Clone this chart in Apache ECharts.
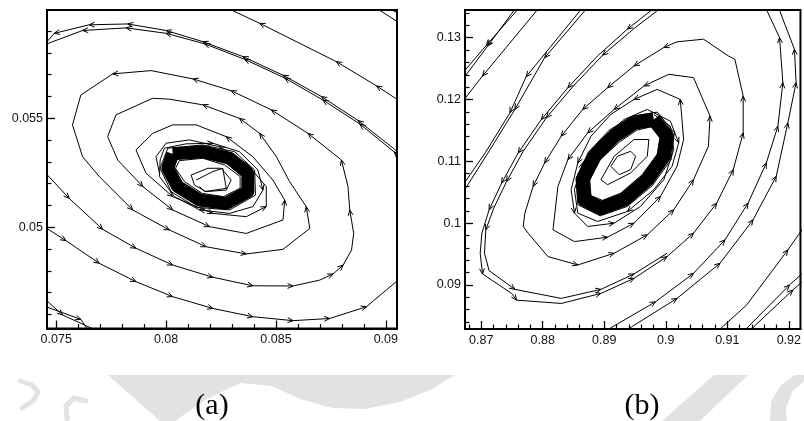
<!DOCTYPE html>
<html>
<head>
<meta charset="utf-8">
<script src="https://cdn.jsdelivr.net/npm/echarts@6/dist/echarts.min.js"></script>
<style>
  html, body { margin: 0; padding: 0; background: #ffffff; }
  #chart { width: 804px; height: 421px; }
</style>
</head>
<body>
<div id="chart"></div>
<script>
// ---------- panel (a): axis ticks ----------
const xMajorA = [0.075, 0.08, 0.085, 0.09];
const xLabelsA = ['0.075', '0.08', '0.085', '0.09'];
const xMinorA = [0.076, 0.077, 0.078, 0.079, 0.081, 0.082, 0.083, 0.084, 0.086, 0.087, 0.088, 0.089];
const yMajorA = [0.05, 0.055];
const yLabelsA = ['0.05', '0.055'];
const yMinorA = [0.046, 0.047, 0.048, 0.049, 0.051, 0.052, 0.053, 0.054, 0.056, 0.057, 0.058, 0.059];

// ---------- panel (b): axis ticks ----------
const xMajorB = [0.87, 0.88, 0.89, 0.9, 0.91, 0.92];
const xLabelsB = ['0.87', '0.88', '0.89', '0.9', '0.91', '0.92'];
const xMinorB = [0.868, 0.872, 0.874, 0.876, 0.878, 0.882, 0.884, 0.886, 0.888, 0.892, 0.894, 0.896, 0.898,
                 0.902, 0.904, 0.906, 0.908, 0.912, 0.914, 0.916, 0.918];
const yMajorB = [0.09, 0.1, 0.11, 0.12, 0.13];
const yLabelsB = ['0.09', '0.1', '0.11', '0.12', '0.13'];
const yMinorB = [0.084, 0.086, 0.088, 0.092, 0.094, 0.096, 0.098, 0.102, 0.104, 0.106, 0.108,
                 0.112, 0.114, 0.116, 0.118, 0.122, 0.124, 0.126, 0.128, 0.132, 0.134];

// ---------- panel (a): trajectories (x, y) ----------
const topRightA = [[0.09056, 0.05584], [0.08958, 0.05649], [0.08775, 0.0576], [0.08426, 0.05936], [0.08289, 0.06001]];
const topRightArrowsA = [1, 2, 3];
const cornerA1 = [[0.09064, 0.05936], [0.08958, 0.06005]];
const cornerA2 = [[0.09064, 0.05979], [0.09011, 0.06005]];

const outerArmA1 = [[0.09064, 0.05337], [0.09034, 0.05363], [0.08874, 0.0549], [0.08707, 0.056], [0.08532, 0.05698],
  [0.0835, 0.05783], [0.08167, 0.05852], [0.08, 0.05903], [0.07825, 0.05933], [0.0765, 0.05929],
  [0.07491, 0.0589], [0.07445, 0.05837]];
const outerArmArrowsA1 = [2, 3, 4, 5, 6, 7, 8, 9, 10];
const outerArmA2 = [[0.09064, 0.05321], [0.09038, 0.05346], [0.08882, 0.05474], [0.08714, 0.05584], [0.0854, 0.05685],
  [0.08357, 0.05771], [0.08175, 0.05842], [0.08, 0.0589], [0.07818, 0.05915], [0.0762, 0.05903], [0.07445, 0.05837]];
const outerArmArrowsA2 = [1, 2, 3, 4, 5, 6, 7, 8, 9];

const bottomA = [[0.07445, 0.05003], [0.07544, 0.04939], [0.07696, 0.04835], [0.07863, 0.04751], [0.0803, 0.04682],
  [0.08213, 0.04628], [0.08395, 0.0459], [0.08578, 0.04572], [0.08745, 0.04582], [0.08912, 0.04636], [0.09056, 0.04758]];
const bottomArrowsA = [1, 2, 3, 4, 5, 6, 7, 8, 9];
const cornerBottomA1 = [[0.07445, 0.04674], [0.07529, 0.04598], [0.07696, 0.04521]];
const cornerBottomA2 = [[0.07445, 0.04639], [0.07612, 0.04578], [0.0765, 0.04521]];

const spiralA = [
  [0.07445, 0.05256], [0.07559, 0.05133], [0.07711, 0.04991], [0.07863, 0.04904], [0.0803, 0.04827],
  [0.08213, 0.04771], [0.08395, 0.04732], [0.08578, 0.04731], [0.08699, 0.04758], [0.0876, 0.04786],
  [0.08806, 0.04827], [0.08844, 0.04896], [0.08854, 0.04972], [0.08836, 0.0508], [0.08828, 0.05187],
  [0.08798, 0.05309], [0.08646, 0.05431], [0.08479, 0.05539], [0.08296, 0.05627], [0.08122, 0.05681],
  [0.07932, 0.05719], [0.07757, 0.05704], [0.07612, 0.05607], [0.07574, 0.0547], [0.0762, 0.05324],
  [0.07696, 0.05233], [0.07848, 0.0508], [0.08015, 0.04988], [0.08182, 0.04911], [0.08365, 0.04878],
  [0.08532, 0.04899], [0.08654, 0.04995], [0.08638, 0.05095], [0.08562, 0.0521], [0.08502, 0.05324],
  [0.08426, 0.05431], [0.08334, 0.055], [0.08167, 0.05562], [0.08015, 0.05588], [0.07939, 0.05592],
  [0.07772, 0.05516], [0.07734, 0.05416], [0.0778, 0.05309], [0.07894, 0.05187], [0.0803, 0.0508],
  [0.08198, 0.05003], [0.08365, 0.04972], [0.08532, 0.05034], [0.0854, 0.05125], [0.08486, 0.05217],
  [0.08395, 0.05324], [0.08274, 0.05416], [0.08137, 0.0547], [0.0803, 0.0547], [0.07939, 0.05431],
  [0.07863, 0.05355], [0.07909, 0.05248], [0.0803, 0.05141], [0.08213, 0.05064], [0.08365, 0.05049],
  [0.08456, 0.05095], [0.08456, 0.05187], [0.08365, 0.05294], [0.08243, 0.0537], [0.08106, 0.05401],
  [0.08, 0.05386], [0.07954, 0.05324], [0.0797, 0.05248]];
const spiralArrowsA = [1, 2, 3, 4, 5, 6, 7, 9, 10, 13, 15, 16, 17, 18, 19, 21, 26, 27, 28, 29, 32, 35, 36, 37,
  43, 44, 45, 48, 51, 57, 58, 60, 63];

const haloA = [[0.07992, 0.05363], [0.08091, 0.05383], [0.08213, 0.05386], [0.08334, 0.05347], [0.08418, 0.05263],
  [0.08441, 0.05171], [0.08395, 0.05095], [0.08289, 0.05064], [0.08152, 0.0508], [0.08038, 0.05141],
  [0.0797, 0.05233], [0.07973, 0.05309], [0.07992, 0.05363]];
const haloArrowsA = [2, 5, 8];

// dense limit cycle: centre line plus its ragged outer and inner edges
const limitCycleA = [[0.0803, 0.05337], [0.08167, 0.05347], [0.08289, 0.05317], [0.08372, 0.05248], [0.08372, 0.05164],
  [0.08274, 0.0511], [0.08152, 0.05125], [0.08053, 0.05187], [0.08008, 0.05271], [0.0803, 0.05337]];
const limitOuterA = [[0.08008, 0.05363], [0.08167, 0.05378], [0.08312, 0.05347], [0.08403, 0.05263], [0.08407, 0.05148],
  [0.08289, 0.0508], [0.08137, 0.05092], [0.08023, 0.05164], [0.07973, 0.05271], [0.08008, 0.05363]];
const limitInnerA = [[0.08061, 0.05306], [0.08167, 0.05317], [0.08266, 0.05286], [0.08337, 0.05233], [0.08337, 0.05179],
  [0.08261, 0.05141], [0.08164, 0.05156], [0.08084, 0.0521], [0.08043, 0.05271], [0.08061, 0.05306]];
const innerA1 = [[0.08114, 0.0524], [0.0819, 0.05271], [0.08251, 0.05271], [0.08296, 0.05217], [0.08274, 0.05171],
  [0.08182, 0.05164], [0.08129, 0.05194], [0.08114, 0.0524]];
const innerA2 = [[0.08137, 0.05217], [0.08213, 0.05256], [0.08258, 0.05271], [0.08274, 0.05179], [0.08175, 0.05164],
  [0.08152, 0.05187]];

// ---------- panel (b): trajectories (x, y) ----------
const topLeftB1 = [[0.87624, 0.1349], [0.87086, 0.12879], [0.86634, 0.12354]];
const topLeftB2 = [[0.8757, 0.1349], [0.87108, 0.12868], [0.86661, 0.12273]];
const topLeftB3 = [[0.87946, 0.1349], [0.87022, 0.12381], [0.86661, 0.11921]];
const topLeftB4 = [[0.8865, 0.1349], [0.87731, 0.1237], [0.87468, 0.11786], [0.87065, 0.11136], [0.86688, 0.10595]];
const topLeftB5 = [[0.88731, 0.1349], [0.88032, 0.12678], [0.87548, 0.1184], [0.87145, 0.1119], [0.86715, 0.10514]];

const spiralB = [
  [0.8986, 0.13517], [0.89376, 0.13138], [0.88892, 0.12706], [0.88409, 0.12191], [0.87978, 0.11677],
  [0.87602, 0.11136], [0.87333, 0.10649], [0.87129, 0.10216], [0.87011, 0.09838], [0.86984, 0.09513],
  [0.87022, 0.09178], [0.87495, 0.08864], [0.87575, 0.08755], [0.88301, 0.08701], [0.88946, 0.08864],
  [0.89484, 0.09107], [0.90021, 0.09459], [0.90451, 0.09838], [0.90828, 0.10325], [0.91097, 0.10866],
  [0.91258, 0.11461], [0.91258, 0.12056], [0.91123, 0.12651], [0.91016, 0.12706], [0.90613, 0.12976],
  [0.90183, 0.12933], [0.89968, 0.12841], [0.89484, 0.12543], [0.89054, 0.12191], [0.8865, 0.1184],
  [0.88301, 0.11407], [0.88032, 0.10974], [0.87844, 0.10595], [0.8771, 0.10162], [0.87683, 0.09946],
  [0.87763, 0.09838], [0.88086, 0.09459], [0.8857, 0.09324], [0.89161, 0.09513], [0.89699, 0.09811],
  [0.90129, 0.10216], [0.90451, 0.10703], [0.90693, 0.11245], [0.9072, 0.11732], [0.90451, 0.12354],
  [0.90048, 0.12408], [0.89645, 0.12219], [0.89161, 0.1184], [0.88731, 0.11461], [0.88409, 0.11028],
  [0.88247, 0.10595], [0.88167, 0.09892], [0.88516, 0.09702], [0.89054, 0.09773], [0.89484, 0.1],
  [0.89914, 0.10433], [0.90183, 0.1092], [0.9029, 0.11353], [0.90236, 0.12002], [0.8986, 0.12164],
  [0.89484, 0.12002], [0.89107, 0.11759], [0.88785, 0.11407], [0.8857, 0.10974], [0.88462, 0.10541],
  [0.88516, 0.10162], [0.88731, 0.09946], [0.89161, 0.1], [0.89591, 0.10271], [0.89968, 0.10703],
  [0.90129, 0.1119], [0.90075, 0.11569], [0.89806, 0.11759]];
const spiralArrowsB = [1, 3, 4, 5, 6, 7, 10, 12, 14, 15, 16, 17, 18, 19, 20, 21, 26, 27, 28, 29, 30, 31, 32,
  37, 38, 39, 40, 41, 43, 46, 47, 48, 49, 53, 54, 55, 58, 60, 63, 65, 67];

const outerArmB = [[0.89968, 0.13517], [0.89484, 0.13149], [0.88973, 0.12716], [0.88489, 0.12208], [0.88059, 0.11704],
  [0.87683, 0.11163], [0.87414, 0.10676], [0.87204, 0.10243], [0.87075, 0.09892], [0.87054, 0.09513],
  [0.87129, 0.09232], [0.87548, 0.08929], [0.88301, 0.08783], [0.88946, 0.08929], [0.89484, 0.09178],
  [0.90021, 0.09513]];
const outerArmArrowsB = [2, 4, 6, 8, 11, 13, 14];

const rightB1 = [[0.88946, 0.08214], [0.89833, 0.08728], [0.90451, 0.09188], [0.90962, 0.0973], [0.91338, 0.10325],
  [0.91634, 0.10974], [0.91822, 0.11569], [0.91903, 0.12273], [0.91849, 0.13003], [0.91607, 0.13517]];
const rightB2 = [[0.89269, 0.08214], [0.90183, 0.08783], [0.90881, 0.09351], [0.91419, 0.10054], [0.91795, 0.10758],
  [0.91984, 0.11623], [0.92118, 0.12273], [0.92091, 0.12814], [0.91903, 0.13301], [0.91822, 0.13517]];
const rightB3 = [[0.90801, 0.08214], [0.91312, 0.08674], [0.91984, 0.09567], [0.92252, 0.09946]];
const rightB4 = [[0.91231, 0.08214], [0.9201, 0.08999], [0.92252, 0.09215]];
const rightB5 = [[0.91312, 0.08214], [0.92064, 0.08918], [0.92252, 0.0908]];

const haloB = [[0.89699, 0.1184], [0.90075, 0.1165], [0.9021, 0.11299], [0.90102, 0.1092], [0.89806, 0.10541],
  [0.89376, 0.10189], [0.88892, 0.10027], [0.8857, 0.10162], [0.88516, 0.10541], [0.8865, 0.10974],
  [0.88946, 0.11353], [0.89322, 0.11677], [0.89699, 0.1184]];
const haloArrowsB = [2, 5, 9];

const limitCycleB = [[0.89806, 0.11677], [0.90021, 0.11407], [0.89968, 0.11082], [0.89699, 0.10703], [0.89322, 0.10379],
  [0.88946, 0.10243], [0.88677, 0.10379], [0.8865, 0.10703], [0.88839, 0.11082], [0.89161, 0.11407],
  [0.89484, 0.11623], [0.89806, 0.11677]];
const limitOuterB = [[0.8986, 0.11796], [0.9014, 0.11461], [0.90086, 0.11028], [0.89779, 0.10606], [0.89376, 0.10271],
  [0.88935, 0.10119], [0.8857, 0.10298], [0.88543, 0.1073], [0.88742, 0.11147], [0.8908, 0.11504],
  [0.89457, 0.11732], [0.8986, 0.11796]];
const limitInnerB = [[0.89763, 0.11558], [0.89903, 0.1138], [0.8986, 0.11109], [0.89618, 0.10785], [0.89269, 0.10487],
  [0.88973, 0.10368], [0.88785, 0.10444], [0.88763, 0.10703], [0.88935, 0.11028], [0.89242, 0.11309],
  [0.89527, 0.11504], [0.89763, 0.11558]];
const innerB1 = [[0.89107, 0.1092], [0.89215, 0.11082], [0.8943, 0.11163], [0.89511, 0.11082], [0.8943, 0.10866],
  [0.89242, 0.10785], [0.89107, 0.1092]];
const innerB2 = [[0.88946, 0.10703], [0.89161, 0.11082], [0.89484, 0.11353], [0.89726, 0.11353], [0.89699, 0.11082],
  [0.8943, 0.10812], [0.89054, 0.10622], [0.88946, 0.10703]];

// ---------- building the chart ----------
const AXIS_A = 0, AXIS_B = 2;

function pathSeries(data, axis, width) {
  return {
    type: 'line', xAxisIndex: axis, yAxisIndex: axis, data: data,
    symbol: 'none', clip: true, silent: true, animation: false, z: 3,
    lineStyle: { color: '#000', width: width || 1, join: 'round' }
  };
}

function arrowSeries(list, axis) {
  const data = [];
  list.forEach(([path, idx]) => {
    idx.forEach(i => data.push([path[i][0], path[i][1], path[i - 1][0], path[i - 1][1]]));
  });
  return {
    type: 'custom', xAxisIndex: axis, yAxisIndex: axis, data: data,
    clip: true, silent: true, animation: false, z: 4,
    encode: { x: 0, y: 1 },
    renderItem: function (params, api) {
      const p = api.coord([api.value(0), api.value(1)]);
      const q = api.coord([api.value(2), api.value(3)]);
      const a = Math.atan2(p[1] - q[1], p[0] - q[0]);
      const L = 6, s = 0.42;
      return {
        type: 'polyline',
        shape: { points: [
          [p[0] - L * Math.cos(a - s), p[1] - L * Math.sin(a - s)],
          [p[0], p[1]],
          [p[0] - L * Math.cos(a + s), p[1] - L * Math.sin(a + s)]
        ] },
        style: { stroke: '#000', lineWidth: 1, fill: null }
      };
    }
  };
}

const pathsA = [topRightA, cornerA1, cornerA2, outerArmA1, outerArmA2, bottomA, cornerBottomA1, cornerBottomA2,
  spiralA, haloA, limitOuterA, limitInnerA, innerA1, innerA2];
const arrowsA = [[topRightA, topRightArrowsA], [outerArmA1, outerArmArrowsA1], [outerArmA2, outerArmArrowsA2],
  [bottomA, bottomArrowsA], [cornerBottomA1, [1]], [cornerBottomA2, [1]], [spiralA, spiralArrowsA], [haloA, haloArrowsA]];
const pathsB = [topLeftB1, topLeftB2, topLeftB3, topLeftB4, topLeftB5, spiralB, outerArmB,
  rightB1, rightB2, rightB3, rightB4, rightB5, haloB, limitOuterB, limitInnerB, innerB1, innerB2];
const arrowsB = [[topLeftB1, [1]], [topLeftB2, [1]], [topLeftB3, [1]], [topLeftB4, [1, 2]], [topLeftB5, [1, 2]],
  [spiralB, spiralArrowsB], [outerArmB, outerArmArrowsB], [rightB1, [1, 2, 3, 4, 5, 6, 7, 8]],
  [rightB2, [1, 2, 3, 4, 5, 6, 7]], [rightB3, [2]], [rightB4, [1]], [rightB5, [1]], [haloB, haloArrowsB]];

const series = [];
pathsA.forEach(p => series.push(pathSeries(p, AXIS_A)));
series.push(pathSeries(limitCycleA, AXIS_A, 13));
series.push(arrowSeries(arrowsA, AXIS_A));
pathsB.forEach(p => series.push(pathSeries(p, AXIS_B)));
series.push(pathSeries(limitCycleB, AXIS_B, 14));
series.push(arrowSeries(arrowsB, AXIS_B));

const labelFont = { fontFamily: '"Liberation Sans", Arial, sans-serif', fontSize: 12.5, color: '#111' };

function labelFor(ticks, labels) {
  return v => {
    const i = ticks.findIndex(t => Math.abs(t - v) < 1e-7);
    return i >= 0 ? labels[i] : '';
  };
}

function majorAxis(grid, pos, min, max, ticks, labels) {
  return {
    type: 'value', gridIndex: grid, position: pos, min: min, max: max,
    axisLine: { show: true, onZero: false, lineStyle: { color: '#000', width: 2 } },
    axisTick: { show: true, inside: true, length: 8, customValues: ticks, lineStyle: { color: '#000', width: 1.3 } },
    axisLabel: Object.assign({ show: true, margin: pos === 'bottom' ? 5 : 4, customValues: ticks,
      formatter: labelFor(ticks, labels) }, labelFont),
    splitLine: { show: false }
  };
}

function minorAxis(grid, pos, min, max, ticks) {
  return {
    type: 'value', gridIndex: grid, position: pos, min: min, max: max,
    axisLine: { show: false },
    axisTick: { show: true, inside: true, length: 4.5, customValues: ticks, lineStyle: { color: '#000', width: 1.2 } },
    axisLabel: { show: false },
    splitLine: { show: false }
  };
}

const wmStyle = { stroke: '#e3e3e3', lineWidth: 5, fill: null, lineCap: 'round' };

const option = {
  backgroundColor: '#ffffff',
  animation: false,
  grid: [
    { left: 47, top: 10, width: 350, height: 318.5, show: true, borderColor: '#000', borderWidth: 2, backgroundColor: 'transparent' },
    { left: 465, top: 10, width: 338, height: 319, show: true, borderColor: '#000', borderWidth: 2, backgroundColor: 'transparent' }
  ],
  xAxis: [
    majorAxis(0, 'bottom', 0.07458, 0.09051, xMajorA, xLabelsA),
    minorAxis(0, 'bottom', 0.07458, 0.09051, xMinorA),
    majorAxis(1, 'bottom', 0.86737, 0.92189, xMajorB, xLabelsB),
    minorAxis(1, 'bottom', 0.86737, 0.92189, xMinorB)
  ],
  yAxis: [
    majorAxis(0, 'left', 0.04536, 0.05997, yMajorA, yLabelsA),
    minorAxis(0, 'left', 0.04536, 0.05997, yMinorA),
    majorAxis(1, 'left', 0.08288, 0.13448, yMajorB, yLabelsB),
    minorAxis(1, 'left', 0.08288, 0.13448, yMinorB)
  ],
  graphic: [
    { type: 'polygon', z: -10, shape: { points: [[108, 375], [455, 375], [432, 389], [400, 402], [365, 409], [332, 408],
        [300, 399], [272, 386], [240, 383], [205, 400], [175, 421], [160, 421]] }, style: { fill: '#e2e2e2' } },
    { type: 'polygon', z: -10, shape: { points: [[714, 375], [748, 375], [700, 421], [662, 421]] }, style: { fill: '#e2e2e2' } },
    { type: 'polygon', z: -10, shape: { points: [[795, 375], [804, 375], [804, 381], [792, 392], [786, 408], [787, 421],
        [770, 421], [771, 402], [780, 386]] }, style: { fill: '#e2e2e2' } },
    { type: 'polyline', z: -10, shape: { points: [[20, 381], [32, 385], [38, 392], [33, 401], [22, 408]] }, style: wmStyle },
    { type: 'polyline', z: -10, shape: { points: [[86, 401], [74, 398], [66, 406], [67, 419]] }, style: wmStyle },
    { type: 'text', style: { text: '(a)', x: 212, y: 406, textAlign: 'center', textVerticalAlign: 'middle',
        font: '30px "Liberation Serif", "DejaVu Serif", serif', fill: '#000' } },
    { type: 'text', style: { text: '(b)', x: 642, y: 406, textAlign: 'center', textVerticalAlign: 'middle',
        font: '30px "Liberation Serif", "DejaVu Serif", serif', fill: '#000' } }
  ],
  series: series
};

const chart = echarts.init(document.getElementById('chart'), null, { renderer: 'canvas' });
chart.setOption(option);
</script>
</body>
</html>
